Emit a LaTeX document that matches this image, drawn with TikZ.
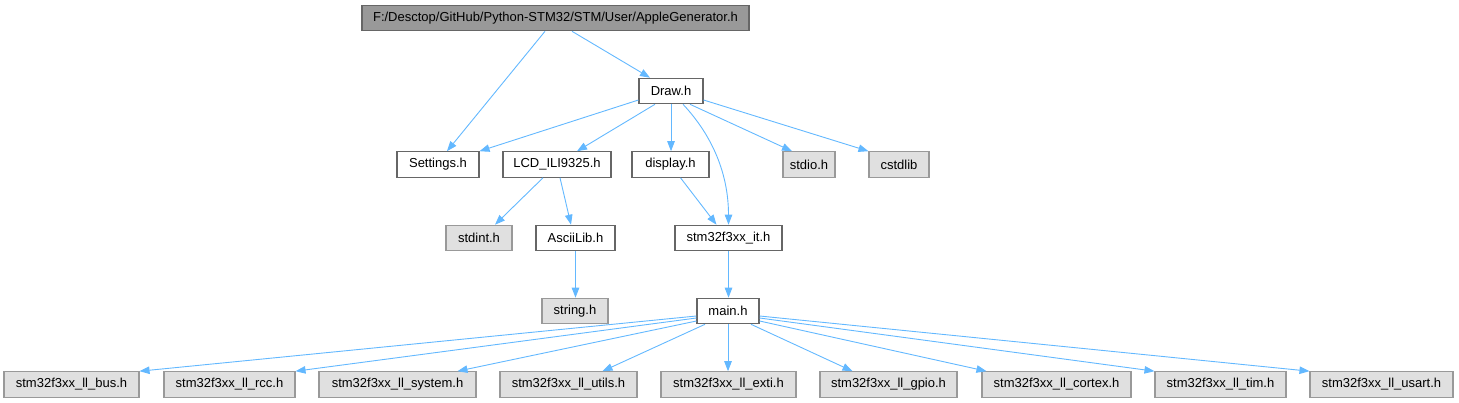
\documentclass[tikz,border=0pt]{standalone}
\usepackage{fontspec}
\setmainfont{Liberation Sans}
\usetikzlibrary{arrows.meta}
\definecolor{edgeblue}{HTML}{63B8FF}
\definecolor{rootfill}{HTML}{999999}
\definecolor{rootdraw}{HTML}{666666}
\definecolor{extfill}{HTML}{E0E0E0}
\definecolor{extdraw}{HTML}{999999}
\begin{document}
\begin{tikzpicture}[x=1pt,y=-1pt,
  box/.style={draw=rootdraw,fill=white,line width=1.1pt,inner sep=0pt,minimum height=25.5pt,
    font=\fontsize{13}{15}\selectfont,text=black,anchor=center},
  rootbox/.style={box,fill=rootfill},
  extbox/.style={box,fill=extfill,draw=extdraw},
  edge/.style={draw=edgeblue,line width=0.9pt,-{Triangle[length=10pt,width=7.5pt,fill=edgeblue]}}]
\useasboundingbox (0,0) rectangle (1459,403);
% row 1
\node[rootbox,minimum width=387pt] (apple) at (555.5,18) {F:/Desctop/GitHub/Python-STM32/STM/User/AppleGenerator.h};
% row 2
\node[box,minimum width=64pt] (draw) at (671,91) {Draw.h};
% row 3
\node[box,minimum width=82pt] (settings) at (438,164.5) {Settings.h};
\node[box,minimum width=108pt] (lcd) at (557,164.5) {LCD\_ILI9325.h};
\node[box,minimum width=77pt] (display) at (670.5,164.5) {display.h};
\node[extbox,minimum width=52pt] (stdio) at (809,164.5) {stdio.h};
\node[extbox,minimum width=60pt] (cstdlib) at (899,164.5) {cstdlib};
% row 4
\node[extbox,minimum width=66pt] (stdint) at (479,238) {stdint.h};
\node[box,minimum width=79pt] (ascii) at (575.5,238) {AsciiLib.h};
\node[box,minimum width=107pt] (stmit) at (728.5,238) {stm32f3xx\_it.h};
% row 5
\node[extbox,minimum width=66pt] (string) at (575,311) {string.h};
\node[box,minimum width=62pt] (main) at (728,311) {main.h};
% row 6
\node[extbox,minimum width=135pt] (bus) at (71.5,384.5) {stm32f3xx\_ll\_bus.h};
\node[extbox,minimum width=131pt] (rcc) at (229.5,384.5) {stm32f3xx\_ll\_rcc.h};
\node[extbox,minimum width=157pt] (system) at (397.5,384.5) {stm32f3xx\_ll\_system.h};
\node[extbox,minimum width=137pt] (utils) at (568.5,384.5) {stm32f3xx\_ll\_utils.h};
\node[extbox,minimum width=135pt] (exti) at (728.5,384.5) {stm32f3xx\_ll\_exti.h};
\node[extbox,minimum width=137pt] (gpio) at (888.5,384.5) {stm32f3xx\_ll\_gpio.h};
\node[extbox,minimum width=149pt] (cortex) at (1056.5,384.5) {stm32f3xx\_ll\_cortex.h};
\node[extbox,minimum width=131pt] (tim) at (1220.5,384.5) {stm32f3xx\_ll\_tim.h};
\node[extbox,minimum width=143pt] (usart) at (1381.5,384.5) {stm32f3xx\_ll\_usart.h};
% edges
\draw[edge] ([xshift=-10.5pt]apple.south) -- ([xshift=9pt]settings.north);
\draw[edge] ([xshift=16.5pt]apple.south) -- ([xshift=-21pt]draw.north);
\draw[edge] ([yshift=-9pt]draw.west) -- (settings.north east);
\draw[edge] ([xshift=-16pt]draw.south) -- ([xshift=20pt]lcd.north);
\draw[edge] (draw.south) -- (draw.south |- display.north);
\draw[edge] ([xshift=12pt]draw.south) .. controls +(30,32) and +(0,-50) .. (stmit.north);
\draw[edge] ([xshift=19pt]draw.south) -- ([xshift=-17pt]stdio.north);
\draw[edge] ([yshift=-9pt]draw.east) -- (cstdlib.north west);
\draw[edge] ([xshift=-14pt]lcd.south) -- ([xshift=16pt]stdint.north);
\draw[edge] ([xshift=3pt]lcd.south) -- ([xshift=-4.5pt]ascii.north);
\draw[edge] ([xshift=10pt]display.south) -- ([xshift=-12pt]stmit.north);
\draw[edge] (ascii.south) -- (ascii.south |- string.north);
\draw[edge] (stmit.south) -- (stmit.south |- main.north);
\draw[edge] ([yshift=-5pt]main.west) -- (bus.north east);
\draw[edge] ([yshift=-7pt]main.west) -- (rcc.north east);
\draw[edge] ([yshift=-10pt]main.west) -- ([xshift=60pt]system.north);
\draw[edge] ([xshift=-23pt]main.south) -- ([xshift=34pt]utils.north);
\draw[edge] (main.south) -- (main.south |- exti.north);
\draw[edge] ([xshift=23pt]main.south) -- ([xshift=-36pt]gpio.north);
\draw[edge] ([yshift=-10pt]main.east) -- ([xshift=5pt]cortex.north west);
\draw[edge] ([yshift=-7pt]main.east) -- (tim.north west);
\draw[edge] ([yshift=-5pt]main.east) -- (usart.north west);
\end{tikzpicture}
\end{document}
